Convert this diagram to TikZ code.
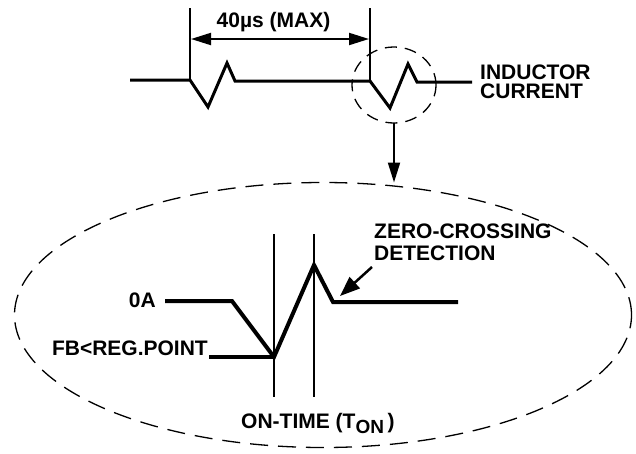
\documentclass[tikz,border=0pt]{standalone}
\usepackage{fontspec}
\setmainfont{Liberation Sans}
\usetikzlibrary{shapes.geometric, arrows.meta, positioning}

\begin{document}
\begin{tikzpicture}[x=1pt, y=-1pt,
    lbl/.style={font=\fontsize{21pt}{22pt}\selectfont\bfseries, inner sep=0pt},
    wave/.style={line width=3pt, line join=miter},
    bigwave/.style={line width=4pt, line join=miter},
    marker/.style={line width=2pt},
    zoomring/.style={draw, ellipse, dashed, inner sep=0pt, outer sep=0pt}]
  \useasboundingbox (0,0) rectangle (636,453);

  % Inductor current, top trace
  \draw[wave] (130,80) -- (190,80) -- (208,107) -- (227,63) -- (235,81) -- (370,81)
    -- (390,108) -- (408,64) -- (417,82) -- (472,82);
  \draw[marker] (190,8) -- (190,80);
  \draw[marker] (370,8) -- (370,81);
  \coordinate (dimL) at (191,39);
  \coordinate (dimR) at (369,39);
  \draw[line width=2pt, {Triangle[length=20pt,width=12pt]}-{Triangle[length=20pt,width=12pt]}] (dimL) -- (dimR);
  \node[lbl, anchor=base] (tmax) at (273.5,27) {40µs (MAX)};
  \node[lbl, anchor=base west, align=left, font=\fontsize{21pt}{19pt}\selectfont\bfseries] (ilabel) at (480,98) {INDUCTOR\\CURRENT};

  % Zoom rings
  \node[zoomring, line width=1.3pt, dash pattern=on 12pt off 8pt, minimum width=84pt, minimum height=76pt] (ring) at (394,85) {};
  \node[zoomring, line width=1.3pt, dash pattern=on 18pt off 10pt, minimum width=617pt, minimum height=265pt] (detail) at (323,315) {};
  \draw[line width=2pt, -{Triangle[length=20pt,width=12pt]}] (ring.south) -- (ring.south |- detail.north);

  % Detail trace
  \draw[bigwave] (165,301) -- (232,301) -- (274,357) -- (314,265) -- (333,302) -- (458,302);
  \draw[bigwave] (209,357) -- (274,357);
  \draw[line width=2.5pt] (274,234) -- (274,397);
  \draw[line width=2.5pt] (314,234) -- (314,397);

  \node[lbl, anchor=base east] (zeroA) at (156,307) {0A};
  \node[lbl, anchor=base east] (fbreg) at (208,355) {FB<REG.POINT};
  \node[lbl, anchor=base west] (ontime) at (241,428) {ON-TIME (T\raisebox{-5pt}{\fontsize{19pt}{19pt}\selectfont ON}\,)};
  \node[lbl, anchor=base west, align=left] (zcross) at (374,260) {ZERO-CROSSING\\DETECTION};

  \coordinate (zctail) at (372,267);
  \coordinate (zchead) at (340,296);
  \draw[line width=2.5pt, -{Triangle[length=20pt,width=15pt]}] (zctail) -- (zchead);
\end{tikzpicture}
\end{document}
